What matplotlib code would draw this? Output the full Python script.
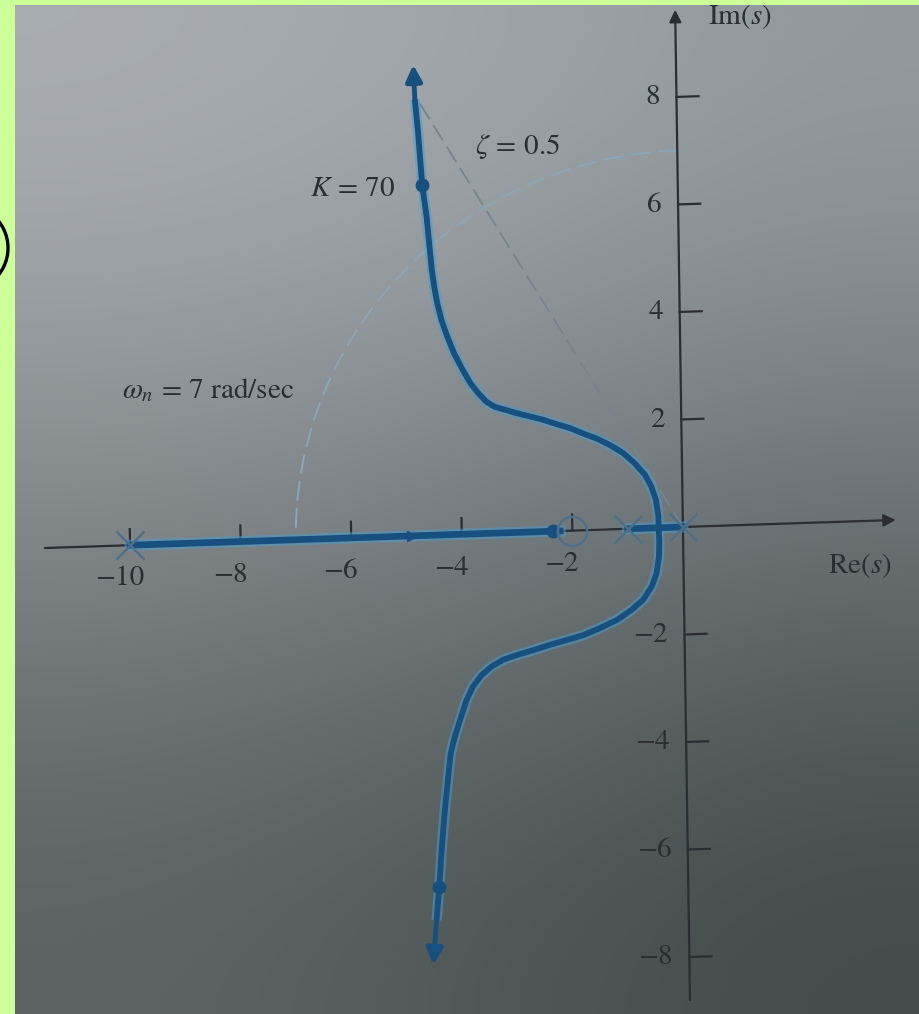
import numpy as np
import matplotlib
matplotlib.use("Agg")
import matplotlib.pyplot as plt
from matplotlib.patches import Arc
from matplotlib.transforms import Affine2D

plt.rcParams["font.family"] = ["STIXGeneral", "DejaVu Sans"]
plt.rcParams["mathtext.fontset"] = "stix"

# open-loop poles and zero of the system
poles = [0.0, -1.0, -10.0]
zeros = [-2.0]

# complex branches of the root locus (Re, Im)
upper_re = [-0.44, -0.44, -0.48, -0.56, -0.67, -0.85, -1.06, -1.30, -1.54,
            -1.78, -2.02, -2.26, -2.50, -2.74, -2.98, -3.19, -3.37, -3.52,
            -3.66, -3.80, -3.94, -4.09, -4.21, -4.31, -4.38, -4.43, -4.47,
            -4.50, -4.55, -4.62, -4.68, -4.73, -4.75]
upper_im = [0.0, 0.21, 0.52, 0.77, 0.99, 1.21, 1.41, 1.57, 1.70,
            1.80, 1.91, 1.99, 2.08, 2.15, 2.22, 2.29, 2.35, 2.45,
            2.61, 2.80, 3.06, 3.37, 3.69, 4.00, 4.31, 4.62, 4.94,
            5.31, 5.93, 6.52, 7.49, 8.11, 8.76]
lower_re = [-0.44, -0.43, -0.44, -0.49, -0.58, -0.74, -0.95, -1.22, -1.53,
            -1.83, -2.13, -2.44, -2.74, -3.04, -3.29, -3.50, -3.68, -3.84,
            -3.96, -4.08, -4.18, -4.26, -4.31, -4.38, -4.45, -4.50, -4.56,
            -4.63]
lower_im = [0.0, -0.23, -0.54, -0.85, -1.09, -1.33, -1.51, -1.69, -1.83,
            -1.95, -2.03, -2.11, -2.20, -2.28, -2.36, -2.48, -2.63, -2.84,
            -3.09, -3.45, -3.76, -4.07, -4.50, -5.12, -5.86, -6.54, -7.16,
            -7.99]

# real-axis segments of the locus
real_segments = [(-10.0, -2.0), (-1.0, 0.0)]

# closed-loop roots for K = 70
k70_re = [-4.62, -2.35, -4.50]
k70_im = [6.52, 0.0, -6.54]

zeta = 0.5
wn = 7.0

re_ticks = [-10, -8, -6, -4, -2]
im_ticks = [8, 6, 4, 2, -2, -4, -6, -8]

core = "#17507f"
halo = "#4b9cc8"
ink = "#2a2e32"
mark = "#4f6f88"

fig = plt.figure(figsize=(9.19, 10.14), dpi=100, facecolor="#ccff99")
ax = fig.add_axes([15 / 919, 0, 904 / 919, 1009 / 1014])
ax.set_axis_off()
xlim = (-12.08, 4.27)
ylim = (-9.06, 9.71)
ax.set_xlim(*xlim)
ax.set_ylim(*ylim)

# the printed page is photographed slightly askew: shear the s-plane
ox, oy = ax.transData.transform((0, 0))
skew = Affine2D().translate(-ox, -oy)
skew = skew + Affine2D(np.array([[1.0, -0.015, 0.0],
                                 [0.033, 1.0, 0.0],
                                 [0.0, 0.0, 1.0]]))
skew = skew + Affine2D().translate(ox, oy)
tr = ax.transData + skew

# paper shading, lighter at the top
shade = np.array([
    [[170, 174, 178], [161, 167, 171], [148, 155, 160]],
    [[132, 137, 140], [120, 127, 131], [106, 114, 117]],
    [[92, 98, 97], [80, 88, 87], [66, 75, 73]],
]) / 255.0
ax.imshow(shade, extent=[*xlim, *ylim], aspect="auto",
          interpolation="bicubic", zorder=0)

# constant damping line and constant natural frequency arc
ang = np.pi - np.arccos(zeta)
ax.plot([0, 9.3 * np.cos(ang)], [0, 9.3 * np.sin(ang)], color="#76848d",
        lw=1.3, ls=(0, (10, 4)), zorder=1, transform=tr)
t = np.linspace(np.pi / 2, np.pi, 100)
ax.plot(wn * np.cos(t), wn * np.sin(t), color="#8aa6b8", lw=1.4,
        ls=(0, (10, 4)), zorder=1, transform=tr)

# s-plane axes
arrow = dict(arrowstyle="-|>", color=ink, lw=1.6, mutation_scale=18,
             shrinkA=0, shrinkB=0)
ax.annotate("", xy=(3.85, 0), xytext=(-11.54, 0), arrowprops=arrow,
            xycoords=tr, textcoords=tr, zorder=2)
ax.annotate("", xy=(0, 9.62), xytext=(0, -8.8), arrowprops=arrow,
            xycoords=tr, textcoords=tr, zorder=2)
for v in re_ticks:
    ax.plot([v, v], [0, 0.3], color=ink, lw=1.6, zorder=2, transform=tr)
    ax.text(v - 0.2, -0.62, f"\u2212{abs(v)}", ha="center", va="center",
            fontsize=21, color=ink, transform=tr)
for v in im_ticks:
    ax.plot([0, 0.4], [v, v], color=ink, lw=1.6, zorder=2, transform=tr)
    lab = f"{v}" if v > 0 else f"\u2212{abs(v)}"
    ax.text(-0.3, v, lab, ha="right", va="center", fontsize=21, color=ink,
            transform=tr)

# locus branches
for xs, ys in [(upper_re, upper_im), (lower_re, lower_im)]:
    ax.plot(xs[:-1], ys[:-1], color=halo, lw=7.5, alpha=0.55,
            solid_capstyle="butt", solid_joinstyle="round", zorder=3,
            transform=tr)
    ax.plot(xs[:-1], ys[:-1], color=core, lw=4.2, solid_capstyle="butt",
            solid_joinstyle="round", zorder=4, transform=tr)
    ax.annotate("", xy=(xs[-1], ys[-1]), xytext=(xs[-2], ys[-2]),
                xycoords=tr, textcoords=tr,
                arrowprops=dict(arrowstyle="-|>,head_length=0.6,head_width=0.3",
                                color=core, lw=3.5, mutation_scale=16,
                                shrinkA=0, shrinkB=0),
                zorder=4)
for a, b in real_segments:
    # stop short of a zero so its circle stays open
    end = b - 0.22 if b in zeros else b
    ax.plot([a, end], [0, 0], color=halo, lw=8, alpha=0.55, zorder=3,
            transform=tr)
    ax.plot([a, end], [0, 0], color=core, lw=4.8, zorder=4, transform=tr)
ax.plot([-4.9], [0], marker=">", ms=7, color=core, zorder=5, transform=tr)

ax.plot(k70_re, k70_im, "o", ms=9, color=core, zorder=5, transform=tr)
ax.plot(poles, [0] * len(poles), "x", ms=20, mew=1.8, color=mark, zorder=5,
        transform=tr)
ax.plot(zeros, [0] * len(zeros), "o", ms=21, mfc="none", mew=1.8,
        mec=mark, zorder=5, transform=tr)

# annotations
ax.text(-5.21, 6.27, r"$K\,=\,70$", ha="right", va="center", fontsize=21,
        color=ink)
ax.text(-3.76, 7.07, r"$\zeta\,=\,0.5$", ha="left", va="center", fontsize=21,
        color=ink)
ax.text(-10.14, 2.55, r"$\omega_n\,=\,7$ rad/sec", ha="left", va="center",
        fontsize=21, color=ink)
ax.text(0.45, 9.49, r"Im$(s)$", ha="left", va="center", fontsize=21,
        color=ink)
ax.text(2.62, -0.71, r"Re$(s)$", ha="left", va="center", fontsize=21,
        color=ink)

# edge of a neighbouring circled mark
fig.add_artist(Arc((-35 / 919, 1 - 248 / 1014), 86 / 919, 86 / 1014,
                   theta1=-50, theta2=50, color="black", lw=2.4,
                   transform=fig.transFigure))

fig.savefig("out.png", dpi=100, facecolor=fig.get_facecolor())
